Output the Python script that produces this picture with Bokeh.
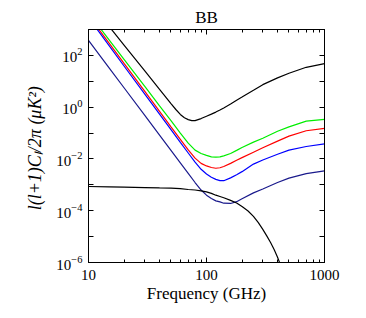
import numpy as np
from bokeh.plotting import figure
from bokeh.models import Range1d, FixedTicker, LogAxis, BasicTickFormatter, LogTickFormatter
from bokeh.embed import file_html
from bokeh.resources import INLINE

# ---- data (log10 of l(l+1)C_l/2pi in uK^2) ----
freq_total = [10, 15, 20, 30, 40, 50, 55, 60, 65, 70, 75, 80, 90, 100, 110, 120, 130,
              140, 160, 180, 200, 250, 300, 400, 500, 700, 1000]
log_total_black = [4.11, 3.11, 2.40, 1.40, 0.69, 0.14, -0.09, -0.28, -0.41, -0.48, -0.52,
                   -0.52, -0.44, -0.35, -0.27, -0.19, -0.11, -0.03, 0.12, 0.27, 0.39,
                   0.65, 0.87, 1.13, 1.31, 1.54, 1.68]

freq = [10, 15, 20, 30, 40, 50, 60, 70, 80, 90, 100, 110, 120, 130, 140,
        160, 180, 200, 250, 300, 400, 500, 700, 1000]
log_green = [3.64, 2.59, 1.85, 0.80, 0.05, -0.52, -1.00, -1.39, -1.66, -1.79,
             -1.86, -1.92, -1.93, -1.92, -1.88, -1.79, -1.67, -1.56, -1.35, -1.20,
             -0.93, -0.76, -0.54, -0.47]
log_red = [3.54, 2.46, 1.69, 0.61, -0.16, -0.76, -1.24, -1.65, -1.97, -2.17,
           -2.27, -2.33, -2.36, -2.34, -2.29, -2.17, -2.05, -1.95, -1.74, -1.57,
           -1.31, -1.12, -0.91, -0.82]
log_blue = [3.46, 2.37, 1.59, 0.50, -0.27, -0.87, -1.36, -1.77, -2.12, -2.40,
            -2.58, -2.71, -2.79, -2.84, -2.84, -2.73, -2.61, -2.49, -2.20, -2.04,
            -1.82, -1.66, -1.52, -1.42]
log_navy = [2.58, 1.51, 0.75, -0.32, -1.08, -1.67, -2.15, -2.56, -2.91, -3.20,
            -3.40, -3.53, -3.62, -3.66, -3.71, -3.72, -3.65, -3.54, -3.31, -3.16,
            -2.91, -2.74, -2.57, -2.46]

freq_cmb = [10, 15, 20, 30, 40, 50, 60, 70, 80, 90, 100, 110, 120, 130, 140, 160,
            180, 200, 225, 250, 275, 300, 325, 350, 375, 400, 425, 450]
log_cmb = [-3.065, -3.08, -3.09, -3.105, -3.12, -3.13, -3.15, -3.18, -3.20, -3.23,
           -3.27, -3.33, -3.40, -3.45, -3.50, -3.60, -3.70, -3.84, -4.01, -4.22,
           -4.46, -4.72, -4.98, -5.24, -5.51, -5.80, -6.11, -6.38]

x_major = [10, 100, 1000]
x_minor = [20, 30, 40, 50, 60, 70, 80, 90, 200, 300, 400, 500, 600, 700, 800, 900]
y_major = [1e-6, 1e-4, 1e-2, 1e0, 1e2]
y_minor = [1e-5, 1e-3, 1e-1, 1e1, 1e3]

title_text = "BB"
x_label = "Frequency (GHz)"
y_label = "l(l+1)C\u2097/2\u03c0  (\u03bcK\u00b2)"

SERIF = "Liberation Serif"

p = figure(width=354, height=314, x_axis_type="log", y_axis_type="log",
           x_range=Range1d(10, 1000), y_range=Range1d(1e-6, 1e3),
           output_backend="svg", toolbar_location=None,
           min_border_left=88, min_border_right=30, min_border_top=29,
           min_border_bottom=52)
p.grid.visible = False
p.outline_line_color = "black"
p.background_fill_color = "white"
p.border_fill_color = "white"

p.title.text = title_text
p.title.align = "center"
p.title.text_font = SERIF
p.title.text_font_size = "17px"
p.title.text_font_style = "normal"
p.title.text_color = "black"
p.title.standoff = 5

xt = FixedTicker(ticks=x_major, minor_ticks=x_minor)
yt = FixedTicker(ticks=y_major, minor_ticks=y_minor)

xa = p.xaxis[0]
xa.ticker = xt
xa.formatter = BasicTickFormatter(use_scientific=False)
xa.axis_label = x_label
ya = p.yaxis[0]
ya.ticker = yt
ya.formatter = LogTickFormatter()
ya.axis_label = y_label

for ax in (xa, ya):
    ax.major_label_text_font = "serif"
    ax.major_label_text_font_size = "15px"
    ax.major_label_text_font_style = "normal"
    ax.major_label_text_color = "black"
    ax.axis_label_text_font = SERIF
    ax.axis_label_text_font_style = "normal"
    ax.axis_label_text_color = "black"
    ax.axis_line_color = "black"
    ax.major_tick_line_color = "black"
    ax.minor_tick_line_color = "black"
    ax.major_tick_out = 0
    ax.minor_tick_out = 0

xa.axis_label_text_font_size = "17px"
xa.major_tick_in = 5
xa.minor_tick_in = 3
xa.major_label_standoff = 7
xa.axis_label_standoff = 1
ya.axis_label_text_font_size = "18px"
ya.major_tick_in = 5
ya.minor_tick_in = 5
ya.major_label_standoff = 6
ya.axis_label_standoff = 8
ya.axis_label_text_font_style = "italic"

top = LogAxis(ticker=xt, major_label_text_color=None, major_tick_in=5, major_tick_out=0,
              minor_tick_in=3, minor_tick_out=0, axis_line_color="black")
right = LogAxis(ticker=yt, major_label_text_color=None, major_tick_in=5, major_tick_out=0,
                minor_tick_in=5, minor_tick_out=0, axis_line_color="black")
p.add_layout(top, "above")
p.add_layout(right, "right")

lw = 1.2
p.line(freq_total, 10 ** np.array(log_total_black), line_color="black", line_width=lw)
p.line(freq, 10 ** np.array(log_green), line_color="#00ee00", line_width=lw)
p.line(freq, 10 ** np.array(log_red), line_color="#ff0000", line_width=lw)
p.line(freq, 10 ** np.array(log_blue), line_color="#0000ff", line_width=lw)
p.line(freq, 10 ** np.array(log_navy), line_color="#1a1a8c", line_width=lw)
p.line(freq_cmb, 10 ** np.array(log_cmb), line_color="black", line_width=lw)

open("out.html", "w").write(file_html(p, INLINE))
